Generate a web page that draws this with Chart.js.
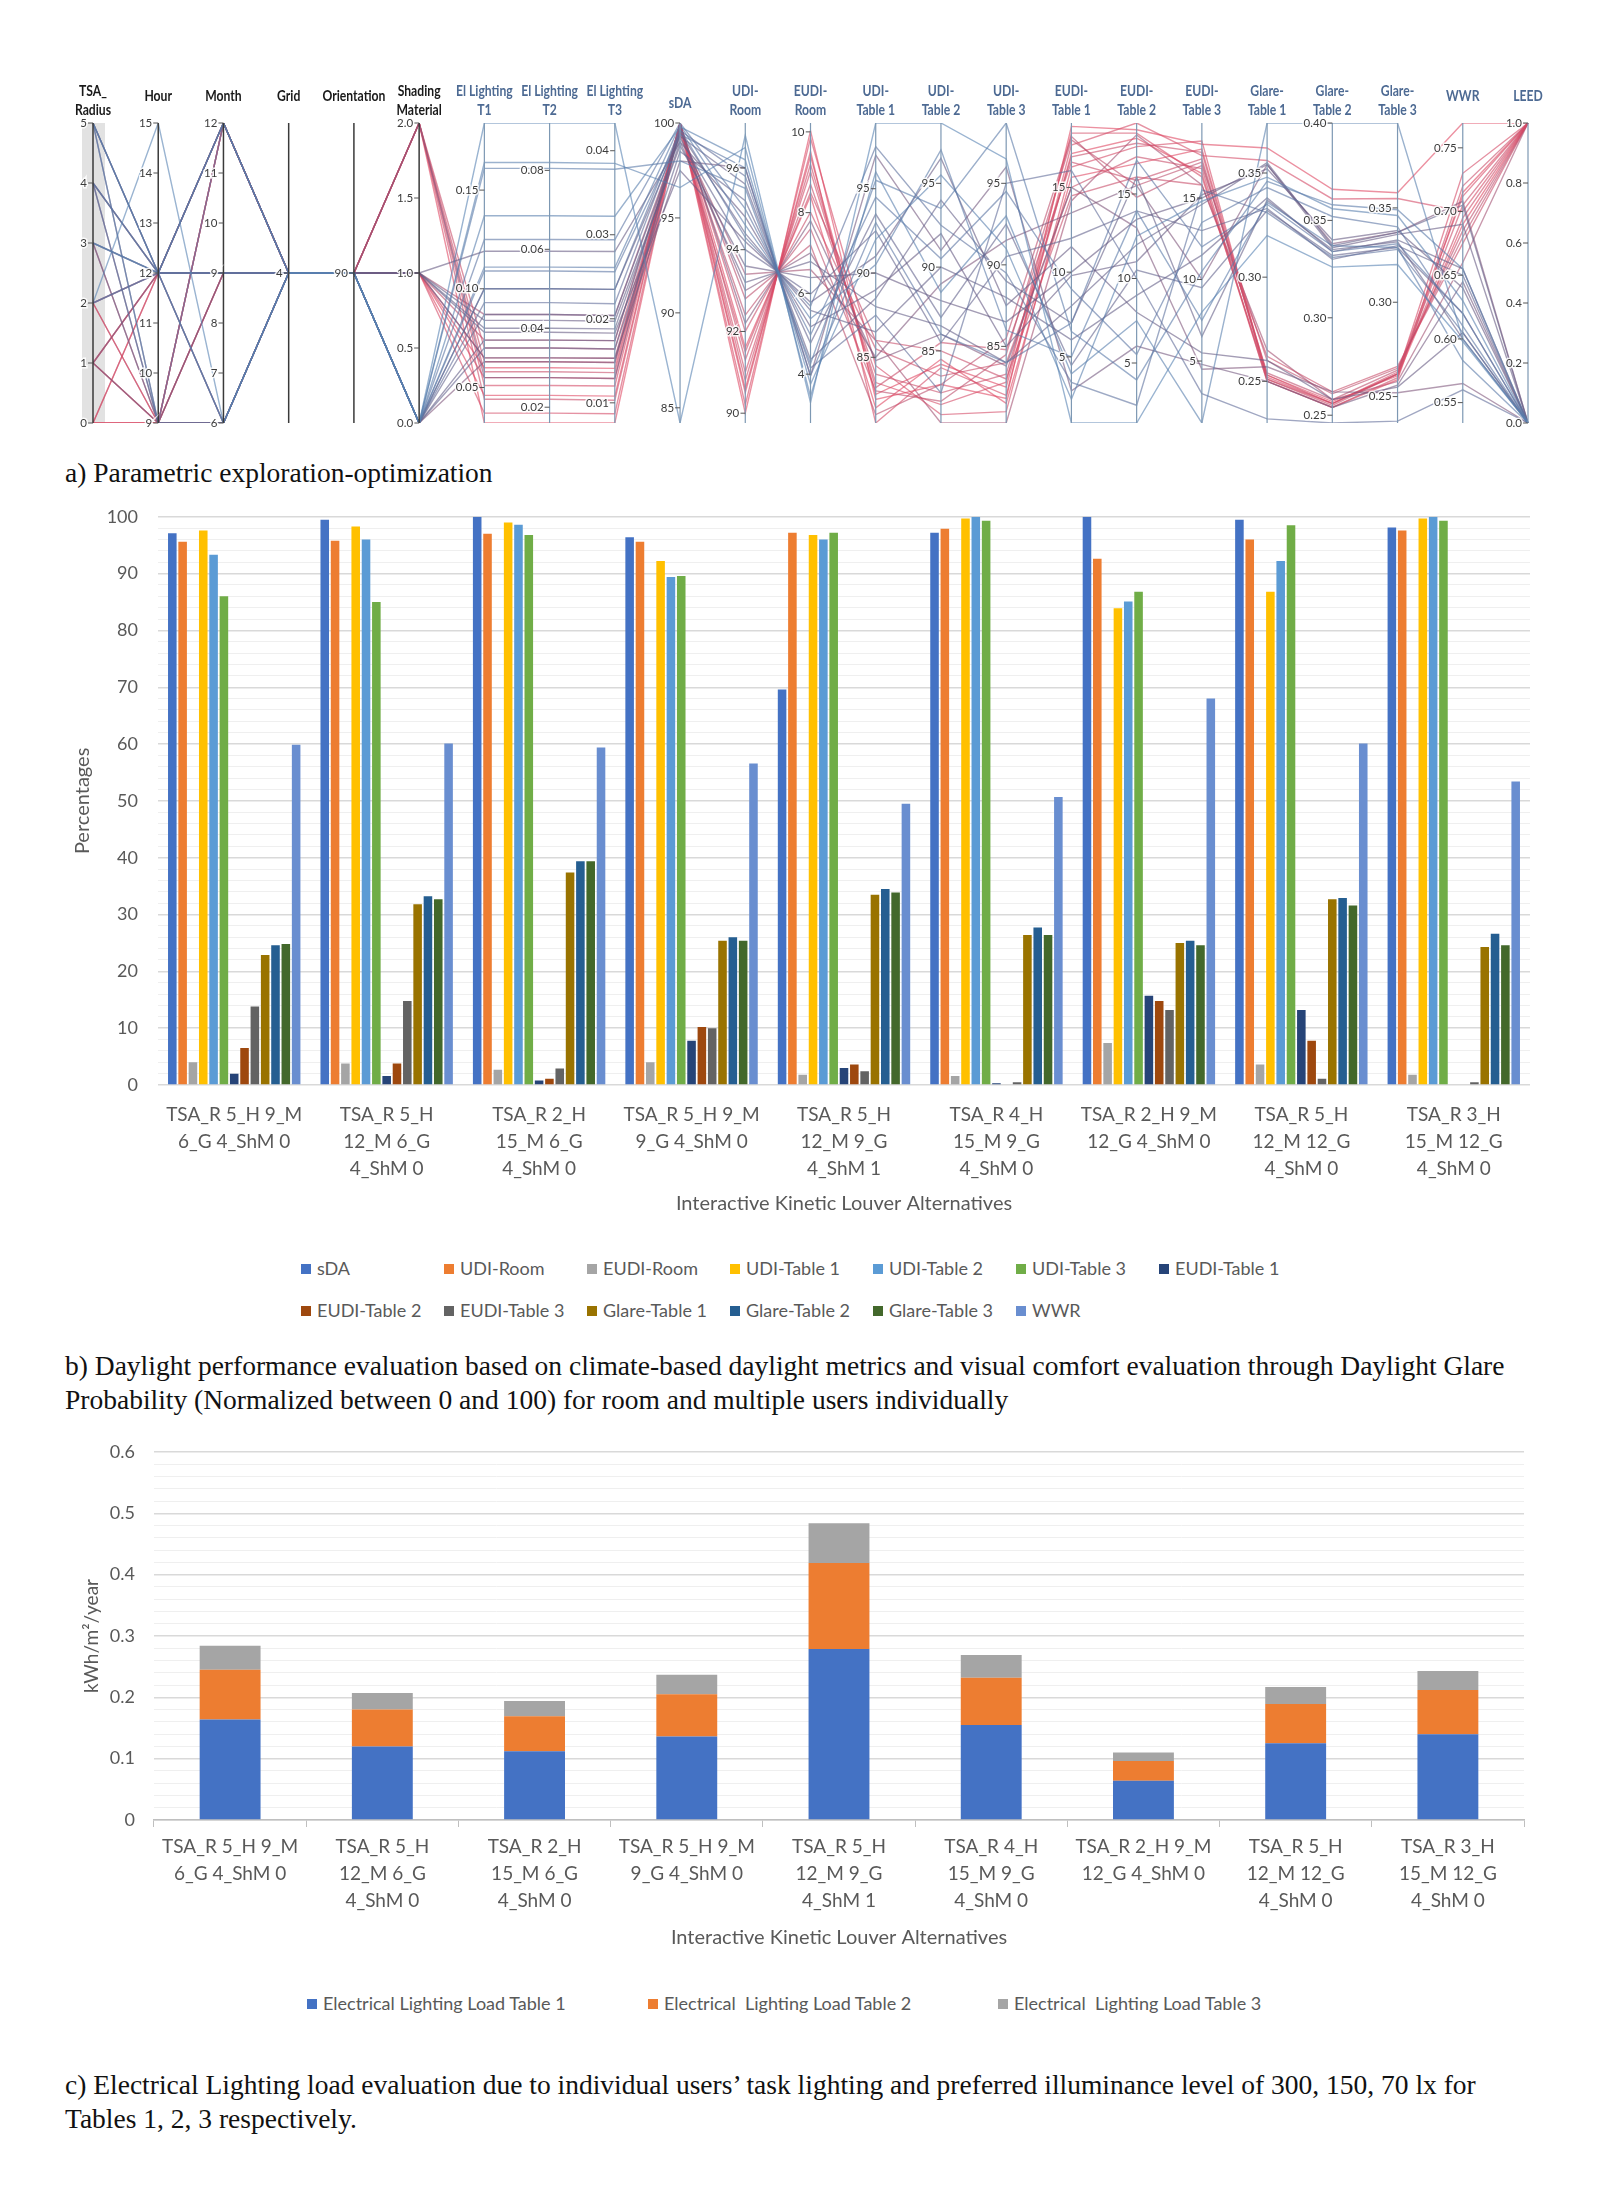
<!DOCTYPE html>
<html>
<head>
<meta charset="utf-8">
<script src="https://cdn.jsdelivr.net/npm/chart.js@4.4.1/dist/chart.umd.min.js"></script>
<style>
  body { margin: 0; background: #fff; width: 1600px; height: 2195px; position: relative; overflow: hidden; }
  canvas { position: absolute; left: 0; }
  .cap { position: absolute; left: 65px; font-family: "Liberation Serif", serif; font-size: 27.5px; line-height: 34px; color: #111; white-space: nowrap; }
  .lg { position: absolute; font-family: Lato, sans-serif; font-size: 18px; color: #595959; white-space: nowrap; line-height: 22px; }
  .sw { display: inline-block; width: 10px; height: 10px; margin-right: 6px; vertical-align: 1px; }
</style>
</head>
<body>
<canvas id="pc" width="1600" height="445" style="top:0"></canvas>
<div class="cap" style="top:456px">a) Parametric exploration-optimization</div>
<canvas id="perf" width="1600" height="744" style="top:486px"></canvas>
<div class="cap" style="top:1349px">b) Daylight performance evaluation based on climate-based daylight metrics and visual comfort evaluation through Daylight Glare<br>Probability (Normalized between 0 and 100) for room and multiple users individually</div>
<canvas id="load" width="1600" height="545" style="top:1420px"></canvas>
<div class="cap" style="top:2068px">c) Electrical Lighting load evaluation due to individual users’ task lighting and preferred illuminance level of 300, 150, 70 lx for<br>Tables 1, 2, 3 respectively.</div>
<script>
// ---------- a) parallel coordinates ----------
const axisTitles = [["TSA_", "Radius"], ["Hour"], ["Month"], ["Grid"], ["Orientation"], ["Shading", "Material"],
  ["El Lighting", "T1"], ["El Lighting", "T2"], ["El Lighting", "T3"], ["sDA"], ["UDI-", "Room"], ["EUDI-", "Room"],
  ["UDI-", "Table 1"], ["UDI-", "Table 2"], ["UDI-", "Table 3"], ["EUDI-", "Table 1"], ["EUDI-", "Table 2"], ["EUDI-", "Table 3"],
  ["Glare-", "Table 1"], ["Glare-", "Table 2"], ["Glare-", "Table 3"], ["WWR"], ["LEED"]];
const axisMin = [0, 9, 6, 3.5, 89.5, 0, 0.032, 0.016, 0.0076, 84.2, 89.76, 2.79, 81.1, 80.7, 80.3, 1.1, 1.45, 1.2, 0.230, 0.246, 0.236, 0.534, 0];
const axisMax = [5, 15, 12, 4.5, 90.5, 2, 0.184, 0.092, 0.0433, 100, 97.1, 10.22, 98.9, 98.6, 98.7, 18.8, 19.2, 19.6, 0.374, 0.400, 0.395, 0.7695, 1];
const axisTicks = [[0, 1, 2, 3, 4, 5], [9, 10, 11, 12, 13, 14, 15], [6, 7, 8, 9, 10, 11, 12], [4], [90], [0, 0.5, 1, 1.5, 2],
  [0.05, 0.10, 0.15], [0.02, 0.04, 0.06, 0.08], [0.01, 0.02, 0.03, 0.04], [85, 90, 95, 100], [90, 92, 94, 96], [4, 6, 8, 10],
  [85, 90, 95], [85, 90, 95], [85, 90, 95], [5, 10, 15], [5, 10, 15], [5, 10, 15],
  [0.25, 0.30, 0.35], [0.25, 0.30, 0.35, 0.40], [0.25, 0.30, 0.35], [0.55, 0.60, 0.65, 0.70, 0.75], [0, 0.2, 0.4, 0.6, 0.8, 1]];
const tickDecimals = [0, 0, 0, 0, 0, 1, 2, 2, 2, 0, 0, 0, 0, 0, 0, 0, 0, 0, 2, 2, 2, 2, 1];

// TSA, Hour, Month, Grid, Orient, ShM, ElT1, ElT2, ElT3, sDA, UDI-R, EUDI-R, UDI1, UDI2, UDI3, EUDI1, EUDI2, EUDI3, G1, G2, G3, WWR, LEED
const designLines = [
  [2, 15, 6, 4, 90, 0, 0.184, 0.092, 0.0433, 84.2, 96.8, 3.30, 98.9, 98.6, 96.5, 1.1, 1.45, 8.0, 0.320, 0.326, 0.320, 0.598, 0],
  [5, 12, 6, 4, 90, 0, 0.164, 0.082, 0.0385, 96.6, 96.5, 3.45, 96.0, 88.5, 93.0, 4.0, 7.5, 1.2, 0.374, 0.400, 0.395, 0.600, 0],
  [4, 12, 9, 4, 90, 0, 0.161, 0.0805, 0.0378, 98.0, 95.5, 4.26, 95.5, 93.5, 98.7, 6.5, 4.0, 10.5, 0.346, 0.358, 0.349, 0.655, 0],
  [3, 12, 12, 4, 90, 0, 0.137, 0.0685, 0.0322, 99.8, 96.2, 3.75, 92.0, 95.5, 91.0, 2.5, 12.5, 14.8, 0.348, 0.356, 0.346, 0.630, 0],
  [2, 12, 9, 4, 90, 0, 0.125, 0.0625, 0.0294, 100, 95.0, 4.97, 94.5, 90.5, 94.5, 9.0, 5.5, 13.5, 0.343, 0.352, 0.340, 0.610, 0],
  [5, 9, 12, 4, 90, 0, 0.111, 0.0555, 0.0261, 99.9, 94.6, 5.37, 90.5, 97.0, 86.0, 5.0, 14.0, 7.5, 0.336, 0.337, 0.329, 0.583, 0],
  [3, 12, 6, 4, 90, 0, 0.100, 0.050, 0.0235, 99.7, 94.3, 5.68, 97.5, 92.5, 89.5, 3.5, 2.5, 15.5, 0.331, 0.331, 0.328, 0.605, 0],
  [4, 9, 6, 4, 90, 0, 0.093, 0.0465, 0.0218, 99.6, 95.8, 4.15, 87.5, 82.5, 95.0, 16.0, 10.0, 3.0, 0.232, 0.246, 0.237, 0.560, 0],
  [5, 12, 12, 4, 90, 0, 0.109, 0.0545, 0.0256, 99.4, 96.0, 3.96, 93.0, 86.0, 84.0, 7.0, 17.0, 12.0, 0.335, 0.334, 0.331, 0.620, 0],
  [5, 12, 12, 4, 90, 1, 0.080, 0.040, 0.0188, 99.0, 93.2, 6.79, 88.0, 86.5, 84.0, 8.0, 12.0, 14.6, 0.355, 0.337, 0.337, 0.705, 0],
  [4, 12, 9, 4, 90, 1, 0.084, 0.042, 0.0197, 98.8, 93.6, 6.39, 90.0, 88.0, 86.5, 10.0, 13.5, 15.0, 0.354, 0.336, 0.336, 0.690, 0],
  [3, 12, 9, 4, 90, 0, 0.087, 0.0435, 0.0204, 99.2, 94.0, 5.98, 92.5, 85.5, 90.5, 12.0, 14.0, 13.0, 0.333, 0.330, 0.330, 0.650, 0],
  [5, 9, 6, 4, 90, 0, 0.074, 0.037, 0.0174, 99.5, 94.4, 5.58, 86.5, 90.0, 88.0, 6.0, 9.0, 11.5, 0.338, 0.334, 0.333, 0.655, 0],
  [4, 9, 9, 4, 90, 1, 0.119, 0.0595, 0.028, 99.0, 94.8, 5.17, 89.0, 92.0, 85.0, 9.8, 11.0, 15.2, 0.352, 0.340, 0.338, 0.640, 0],
  [2, 12, 6, 4, 90, 0, 0.070, 0.035, 0.0164, 98.5, 95.2, 4.77, 93.5, 87.0, 92.5, 4.5, 10.5, 9.5, 0.332, 0.332, 0.329, 0.620, 0],
  [3, 9, 6, 4, 90, 0, 0.100, 0.050, 0.0235, 99.3, 95.6, 4.36, 88.5, 94.0, 89.0, 7.0, 16.0, 6.5, 0.337, 0.335, 0.332, 0.600, 0],
  [5, 12, 9, 4, 90, 1, 0.065, 0.0325, 0.0153, 98.0, 96.0, 3.96, 97.0, 91.0, 96.0, 3.0, 6.0, 4.8, 0.250, 0.254, 0.256, 0.645, 0],
  [4, 12, 12, 4, 90, 1, 0.078, 0.039, 0.0183, 97.5, 94.2, 5.78, 91.0, 96.5, 87.5, 11.5, 8.0, 5.5, 0.260, 0.258, 0.255, 0.605, 0],
  [1, 9, 6, 4, 90, 0, 0.063, 0.0315, 0.0148, 99.6, 93.0, 7.00, 85.0, 89.0, 91.5, 13.5, 15.5, 10.0, 0.354, 0.338, 0.337, 0.708, 0],
  [1, 12, 12, 4, 90, 2, 0.055, 0.0275, 0.0129, 99.9, 92.2, 7.80, 84.8, 86.0, 83.8, 15.0, 13.0, 4.5, 0.257, 0.262, 0.252, 0.565, 0],
  [0, 9, 6, 4, 90, 1, 0.046, 0.023, 0.0108, 100, 90.0, 10.03, 82.5, 83.0, 81.8, 18.6, 18.8, 18.3, 0.362, 0.366, 0.358, 0.7695, 1],
  [1, 12, 12, 4, 90, 2, 0.051, 0.0255, 0.012, 100, 90.5, 9.52, 81.1, 84.0, 82.0, 17.5, 19.2, 17.6, 0.356, 0.361, 0.355, 0.700, 1],
  [0, 12, 9, 4, 90, 1, 0.055, 0.0275, 0.0129, 100, 91.0, 9.02, 83.5, 81.8, 82.8, 18.2, 18.6, 16.3, 0.252, 0.256, 0.263, 0.712, 1],
  [1, 9, 12, 4, 90, 2, 0.058, 0.029, 0.0136, 100, 91.3, 8.71, 84.0, 82.5, 83.3, 16.8, 18.0, 17.8, 0.251, 0.255, 0.262, 0.705, 1],
  [2, 9, 9, 4, 90, 1, 0.060, 0.030, 0.0141, 100, 91.6, 8.41, 82.0, 84.5, 81.5, 15.6, 16.8, 18.0, 0.253, 0.257, 0.261, 0.690, 1],
  [0, 12, 6, 4, 90, 2, 0.063, 0.0315, 0.0148, 100, 92.0, 8.01, 85.5, 83.5, 84.0, 15.0, 17.2, 16.8, 0.250, 0.254, 0.260, 0.720, 1],
  [3, 9, 12, 4, 90, 1, 0.065, 0.0325, 0.0153, 99.7, 92.4, 7.60, 83.0, 82.0, 84.5, 17.8, 15.5, 17.2, 0.254, 0.258, 0.264, 0.685, 1],
  [1, 12, 9, 4, 90, 1, 0.037, 0.0185, 0.0087, 100, 90.2, 9.85, 84.5, 81.2, 81.0, 16.2, 17.8, 18.5, 0.251, 0.256, 0.262, 0.730, 1],
  [0, 9, 9, 4, 90, 2, 0.070, 0.035, 0.0164, 99.5, 91.5, 8.50, 86.0, 85.0, 83.0, 14.5, 16.0, 15.8, 0.262, 0.262, 0.266, 0.675, 1],
  [2, 12, 12, 4, 90, 1, 0.074, 0.037, 0.0174, 99.8, 92.8, 7.20, 81.6, 83.0, 85.5, 18.0, 14.8, 17.0, 0.260, 0.261, 0.265, 0.680, 1],
  [0, 9, 12, 4, 90, 2, 0.032, 0.016, 0.0076, 100, 90.6, 9.40, 82.8, 84.2, 82.5, 17.0, 18.3, 16.5, 0.250, 0.254, 0.259, 0.715, 1],
  [2, 9, 12, 4, 90, 1, 0.087, 0.0435, 0.0204, 99.4, 93.4, 6.59, 86.0, 80.7, 80.3, 14.2, 18.5, 15.8, 0.265, 0.258, 0.258, 0.660, 1],
  [1, 9, 9, 4, 90, 2, 0.044, 0.022, 0.0103, 100, 90.8, 9.20, 83.2, 85.5, 84.8, 16.5, 15.8, 17.4, 0.253, 0.256, 0.262, 0.695, 1]
];
// colour position of each line between blue (0) and red (1)
const lineTone = [0.05, 0.1, 0.15, 0.1, 0.2, 0.15, 0.25, 0.3, 0.2,
  0.45, 0.5, 0.4, 0.45, 0.5, 0.4, 0.45, 0.55, 0.5, 0.6, 0.6,
  1, 0.95, 0.95, 0.9, 1, 0.9, 0.85, 0.95, 0.9, 0.85, 1, 0.75, 0.9];

function toneColor(t) {
  const stops = [[84, 134, 184], [104, 92, 132], [224, 72, 98]];
  const s = t < 0.5 ? 0 : 1, f = t < 0.5 ? t / 0.5 : (t - 0.5) / 0.5;
  const c = stops[s].map((v, i) => Math.round(v + (stops[s + 1][i] - v) * f));
  return `rgba(${c[0]},${c[1]},${c[2]},0.6)`;
}

const pcAxes = {
  id: "pcAxes",
  beforeDatasetsDraw(chart) {
    const { ctx, chartArea: a, scales: { x } } = chart;
    const x0 = x.getPixelForValue(0);
    ctx.save();
    ctx.fillStyle = "#e2e2e2";
    ctx.fillRect(x0 - 11, a.top, 23, a.bottom - a.top);
    ctx.restore();
  },
  afterDatasetsDraw(chart) {
    const { ctx, chartArea: a, scales: { x, y } } = chart;
    ctx.save();
    axisTitles.forEach((title, i) => {
      const px = x.getPixelForValue(i);
      const dark = i < 6;
      ctx.strokeStyle = dark ? "#3a3a3a" : "#7d98b3";
      ctx.lineWidth = dark ? 1.5 : 1.2;
      ctx.beginPath();
      ctx.moveTo(px, a.top);
      ctx.lineTo(px, a.bottom);
      ctx.stroke();

      // ticks
      ctx.font = "11.5px Lato, sans-serif";
      ctx.textAlign = "right";
      ctx.textBaseline = "middle";
      axisTicks[i].forEach(t => {
        const py = y.getPixelForValue((t - axisMin[i]) / (axisMax[i] - axisMin[i]));
        ctx.strokeStyle = "#555";
        ctx.lineWidth = 1;
        ctx.beginPath();
        ctx.moveTo(px - 5, py);
        ctx.lineTo(px, py);
        ctx.stroke();
        const txt = t.toFixed(tickDecimals[i]);
        ctx.strokeStyle = "rgba(255,255,255,0.85)";
        ctx.lineWidth = 3;
        ctx.strokeText(txt, px - 6, py);
        ctx.fillStyle = "#3c3c3c";
        ctx.fillText(txt, px - 6, py);
      });

      // titles, slightly condensed like the original narrow face
      ctx.save();
      ctx.translate(px, 0);
      ctx.scale(0.84, 1);
      ctx.font = "bold 14.5px Lato, sans-serif";
      ctx.textAlign = "center";
      ctx.fillStyle = dark ? "#1a1a1a" : "#4d6a93";
      if (title.length === 2) {
        ctx.fillText(title[0], 0, 91);
        ctx.fillText(title[1], 0, 110);
      } else {
        ctx.fillText(title[0], 0, i === 9 ? 103 : 96);
      }
      ctx.restore();
    });
    ctx.restore();
  }
};

new Chart(document.getElementById("pc"), {
  type: "line",
  data: {
    labels: axisTitles.map(t => t.join(" ")),
    datasets: designLines.map((row, k) => ({
      data: row.map((v, i) => (v - axisMin[i]) / (axisMax[i] - axisMin[i])),
      borderColor: toneColor(lineTone[k]),
      borderWidth: 1.4,
      pointRadius: 0,
      tension: 0,
      fill: false
    }))
  },
  options: {
    responsive: false,
    animation: false,
    events: [],
    layout: { padding: { left: 93, right: 72, top: 123, bottom: 22 } },
    plugins: { legend: { display: false }, tooltip: { enabled: false } },
    scales: {
      x: { display: false, offset: false },
      y: { display: false, min: 0, max: 1 }
    }
  },
  plugins: [pcAxes]
});

// ---------- b) daylight performance ----------
const alternatives = [
  ["TSA_R 5_H 9_M", "6_G 4_ShM 0"], ["TSA_R 5_H", "12_M 6_G", "4_ShM 0"], ["TSA_R 2_H", "15_M 6_G", "4_ShM 0"],
  ["TSA_R 5_H 9_M", "9_G 4_ShM 0"], ["TSA_R 5_H", "12_M 9_G", "4_ShM 1"], ["TSA_R 4_H", "15_M 9_G", "4_ShM 0"],
  ["TSA_R 2_H 9_M", "12_G 4_ShM 0"], ["TSA_R 5_H", "12_M 12_G", "4_ShM 0"], ["TSA_R 3_H", "15_M 12_G", "4_ShM 0"]];
const metricNames = ["sDA", "UDI-Room", "EUDI-Room", "UDI-Table 1", "UDI-Table 2", "UDI-Table 3", "EUDI-Table 1",
  "EUDI-Table 2", "EUDI-Table 3", "Glare-Table 1", "Glare-Table 2", "Glare-Table 3", "WWR"];
const sDA = [97.1, 99.5, 100, 96.4, 69.6, 97.2, 100, 99.5, 98.1];
const udiRoom = [95.6, 95.8, 97.0, 95.6, 97.2, 97.9, 92.6, 96.0, 97.6];
const eudiRoom = [4.0, 3.8, 2.7, 4.0, 1.8, 1.6, 7.4, 3.6, 1.8];
const udiTable1 = [97.6, 98.3, 99.0, 92.2, 96.8, 99.7, 83.9, 86.8, 99.7];
const udiTable2 = [93.3, 96.0, 98.6, 89.4, 96.0, 100, 85.1, 92.2, 100];
const udiTable3 = [86.0, 85.0, 96.8, 89.6, 97.2, 99.3, 86.8, 98.5, 99.3];
const eudiTable1 = [2.0, 1.6, 0.8, 7.8, 3.0, 0.3, 15.7, 13.2, 0];
const eudiTable2 = [6.5, 3.8, 1.1, 10.2, 3.6, 0, 14.8, 7.8, 0];
const eudiTable3 = [13.8, 14.8, 2.9, 10.0, 2.4, 0.5, 13.2, 1.1, 0.5];
const glareTable1 = [22.9, 31.8, 37.4, 25.4, 33.5, 26.4, 25.0, 32.7, 24.3];
const glareTable2 = [24.6, 33.2, 39.4, 26.0, 34.5, 27.7, 25.4, 32.9, 26.6];
const glareTable3 = [24.8, 32.7, 39.4, 25.4, 33.9, 26.4, 24.6, 31.6, 24.6];
const wwr = [59.9, 60.1, 59.4, 56.6, 49.5, 50.7, 68.0, 60.1, 53.4];
const metricColors = ["#4472C4", "#ED7D31", "#A5A5A5", "#FFC000", "#5B9BD5", "#70AD47", "#264478",
  "#9E480E", "#636363", "#997300", "#255E91", "#43682B", "#698ED0"];
const perfSeries = [sDA, udiRoom, eudiRoom, udiTable1, udiTable2, udiTable3, eudiTable1,
  eudiTable2, eudiTable3, glareTable1, glareTable2, glareTable3, wwr];

const axisFont = { family: "Lato, sans-serif", size: 18 };
const labelFont = { family: "Lato, sans-serif", size: 19, lineHeight: 1.42 };
const gray = "#595959";

new Chart(document.getElementById("perf"), {
  type: "bar",
  data: {
    labels: alternatives,
    datasets: metricNames.map((n, i) => ({
      label: n,
      data: perfSeries[i],
      backgroundColor: metricColors[i],
      categoryPercentage: 0.88,
      barPercentage: 0.83
    }))
  },
  options: {
    responsive: false,
    animation: false,
    events: [],
    layout: { padding: { top: 30, right: 70, left: 0, bottom: 0 } },
    plugins: { legend: { display: false }, tooltip: { enabled: false } },
    scales: {
      x: {
        grid: { display: false },
        border: { display: false },
        ticks: { color: gray, font: labelFont, padding: 8, maxRotation: 0, autoSkip: false },
        title: { display: true, text: "Interactive Kinetic Louver Alternatives", color: gray,
          font: { family: "Lato, sans-serif", size: 20 }, padding: { bottom: 14 } },
        afterFit: s => { s.height = 145; }
      },
      y: {
        min: 0, max: 100,
        ticks: { stepSize: 2, autoSkip: false, color: gray, font: axisFont, padding: 20,
          callback: v => (v % 10 === 0 ? v : "") },
        grid: { drawTicks: false, color: c => (c.tick.value % 10 === 0 ? "#d9d9d9" : "#efefef"),
          lineWidth: c => (c.tick.value % 10 === 0 ? 1.4 : 1) },
        border: { display: false },
        title: { display: true, text: "Percentages", color: gray,
          font: { family: "Lato, sans-serif", size: 20 }, padding: { top: 71 } },
        afterFit: s => { s.width = 158; }
      }
    }
  }
});

metricNames.forEach((n, i) => {
  const item = document.createElement("div");
  item.className = "lg";
  item.style.left = (301 + (i % 7) * 143) + "px";
  item.style.top = (1257 + Math.floor(i / 7) * 42) + "px";
  item.innerHTML = `<span class="sw" style="background:${metricColors[i]}"></span>${n}`;
  document.body.appendChild(item);
});

// ---------- c) electrical lighting load ----------
const loadNames = ["Electrical Lighting Load Table 1", "Electrical  Lighting Load Table 2", "Electrical  Lighting Load Table 3"];
const loadTable1 = [0.164, 0.120, 0.112, 0.136, 0.279, 0.155, 0.064, 0.125, 0.140];
const loadTable2 = [0.081, 0.060, 0.057, 0.069, 0.140, 0.077, 0.032, 0.064, 0.072];
const loadTable3 = [0.039, 0.027, 0.025, 0.032, 0.065, 0.037, 0.014, 0.028, 0.031];
const loadColors = ["#4472C4", "#ED7D31", "#A5A5A5"];
const loadSeries = [loadTable1, loadTable2, loadTable3];

const isMajor = v => Math.round(v * 100) % 10 === 0;

new Chart(document.getElementById("load"), {
  type: "bar",
  data: {
    labels: alternatives,
    datasets: loadNames.map((n, i) => ({
      label: n,
      data: loadSeries[i],
      backgroundColor: loadColors[i],
      categoryPercentage: 0.8,
      barPercentage: 0.5
    }))
  },
  options: {
    responsive: false,
    animation: false,
    events: [],
    layout: { padding: { top: 32, right: 76, left: 0, bottom: 0 } },
    plugins: { legend: { display: false }, tooltip: { enabled: false } },
    scales: {
      x: {
        stacked: true,
        grid: { display: true, drawOnChartArea: false, drawTicks: true, tickLength: 7, color: "#bfbfbf" },
        border: { display: true, color: "#bfbfbf", width: 1.4 },
        ticks: { color: gray, font: labelFont, padding: 6, maxRotation: 0, autoSkip: false },
        title: { display: true, text: "Interactive Kinetic Louver Alternatives", color: gray,
          font: { family: "Lato, sans-serif", size: 20 }, padding: { bottom: 15 } },
        afterFit: s => { s.height = 145; }
      },
      y: {
        stacked: true,
        min: 0, max: 0.6,
        ticks: { stepSize: 0.02, autoSkip: false, color: gray, font: axisFont, padding: 19,
          callback: v => (isMajor(v) ? String(Math.round(v * 10) / 10) : "") },
        grid: { drawTicks: false, color: c => (isMajor(c.tick.value) ? "#d9d9d9" : "#efefef"),
          lineWidth: c => (isMajor(c.tick.value) ? 1.4 : 1) },
        border: { display: false },
        title: { display: true, text: "kWh/m²/year", color: gray,
          font: { family: "Lato, sans-serif", size: 19 }, padding: { top: 80 } },
        afterFit: s => { s.width = 154; }
      }
    }
  }
});

loadNames.forEach((n, i) => {
  const item = document.createElement("div");
  item.className = "lg";
  item.style.left = [307, 648, 998][i] + "px";
  item.style.top = "1992px";
  item.style.whiteSpace = "pre";
  item.innerHTML = `<span class="sw" style="background:${loadColors[i]}"></span>${n}`;
  document.body.appendChild(item);
});
</script>
</body>
</html>
